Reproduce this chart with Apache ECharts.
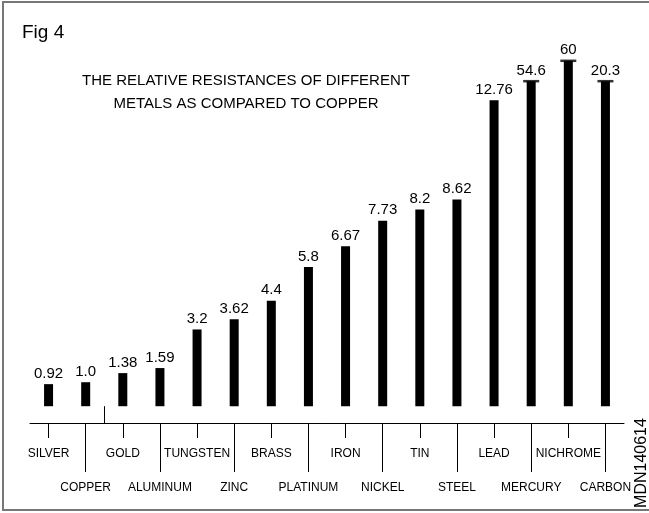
<!DOCTYPE html>
<html>
<head>
<meta charset="utf-8">
<script src="https://cdn.jsdelivr.net/npm/echarts@6/dist/echarts.min.js"></script>
<style>html,body{margin:0;padding:0;background:#fff}#c{width:649px;height:513px}</style>
</head>
<body>
<div id="c"></div>
<script>
// Metals (category order as drawn)
var categories = ['SILVER','COPPER','GOLD','ALUMINUM','TUNGSTEN','ZINC','BRASS','PLATINUM','IRON','NICKEL','TIN','STEEL','LEAD','MERCURY','NICHROME','CARBON'];
// Relative resistance (copper = 1), as printed above each bar
var values = [0.92, 1.0, 1.38, 1.59, 3.2, 3.62, 4.4, 5.8, 6.67, 7.73, 8.2, 8.62, 12.76, 54.6, 60, 20.3];
var valueLabels = ['0.92','1.0','1.38','1.59','3.2','3.62','4.4','5.8','6.67','7.73','8.2','8.62','12.76','54.6','60','20.3'];
// Drawn bar heights (last three bars are broken / truncated, marked with a cap)
var barHeights = [0.92, 1.0, 1.38, 1.59, 3.2, 3.62, 4.4, 5.8, 6.67, 7.73, 8.2, 8.62, 12.76, 13.55, 14.4, 13.55];

var FONT = 'Arial, "Liberation Sans", sans-serif';
var chart = echarts.init(document.getElementById('c'), null, {renderer: 'canvas'});

var capData = barHeights.map(function (h, i) { return values[i] > h ? [i, h] : [i, '-']; });

var baseAxis = {
  type: 'category',
  data: categories,
  gridIndex: 0,
  position: 'bottom',
  boundaryGap: true,
  splitLine: {show: false}
};

var YMIN = -0.7;
var option = {
  animation: false,
  backgroundColor: '#fff',
  grid: {left: 30, right: 25, top: 45.2, bottom: 90},
  xAxis: [
    Object.assign({}, baseAxis, {
      axisLine: {show: true, onZero: false, lineStyle: {color: '#000', width: 1}},
      axisTick: {show: true, alignWithLabel: true, length: 15, lineStyle: {color: '#000'},
        interval: function (i) { return i % 2 === 0; }},
      axisLabel: {show: true, margin: 25, color: '#000', fontSize: 12, fontFamily: FONT,
        interval: function (i) { return i % 2 === 0; }}
    }),
    Object.assign({}, baseAxis, {
      axisLine: {show: false, onZero: false},
      axisTick: {show: true, alignWithLabel: true, length: 49, lineStyle: {color: '#000'},
        interval: function (i) { return i % 2 === 1; }},
      axisLabel: {show: true, margin: 59, color: '#000', fontSize: 12, fontFamily: FONT,
        interval: function (i) { return i % 2 === 1; }}
    })
  ],
  yAxis: {type: 'value', min: YMIN, max: 15.05, show: false},
  series: [
    {
      type: 'bar',
      xAxisIndex: 0,
      data: barHeights,
      barWidth: 9,
      itemStyle: {color: '#000'},
      label: {
        show: true, position: 'top', distance: 3,
        color: '#000', fontSize: 15, fontFamily: FONT,
        formatter: function (p) { return valueLabels[p.dataIndex]; }
      }
    },
    {
      type: 'scatter',
      xAxisIndex: 0,
      data: capData,
      symbol: 'rect',
      symbolSize: [16, 2.5],
      itemStyle: {color: '#000'},
      z: 3
    }
  ],
  graphic: [
    {type: 'rect', shape: {x: 3, y: 2, width: 700, height: 508},
      style: {fill: 'none', stroke: '#777', lineWidth: 2}, silent: true},
    {type: 'text', x: 22, y: 23,
      style: {text: 'Fig 4', font: '19px ' + FONT, fill: '#000', textAlign: 'left', textVerticalAlign: 'top'}},
    {type: 'text', x: 246, y: 69,
      style: {text: 'THE RELATIVE RESISTANCES OF DIFFERENT\nMETALS AS COMPARED TO COPPER',
        font: '15px ' + FONT, fill: '#000', textAlign: 'center', textVerticalAlign: 'top', lineHeight: 23.5}},
    {type: 'text', x: 642, y: 463, rotation: Math.PI / 2,
      style: {text: 'MDN140614', font: '16px ' + FONT, fill: '#000', textAlign: 'center', textVerticalAlign: 'middle'}}
  ]
};
chart.setOption(option);

// small upward tick at the boundary between COPPER and GOLD, placed via the chart's own scales
var xa = chart.convertToPixel({xAxisIndex: 0}, 1);
var xb = chart.convertToPixel({xAxisIndex: 0}, 2);
var yTop = chart.convertToPixel({yAxisIndex: 0}, 0);
var yBot = chart.convertToPixel({yAxisIndex: 0}, YMIN);
var xm = Math.round((xa + xb) / 2) + 0.5;
chart.setOption({graphic: option.graphic.concat([
  {type: 'line', shape: {x1: xm, y1: yTop, x2: xm, y2: yBot}, style: {stroke: '#000', lineWidth: 1}}
])});
</script>
</body>
</html>
